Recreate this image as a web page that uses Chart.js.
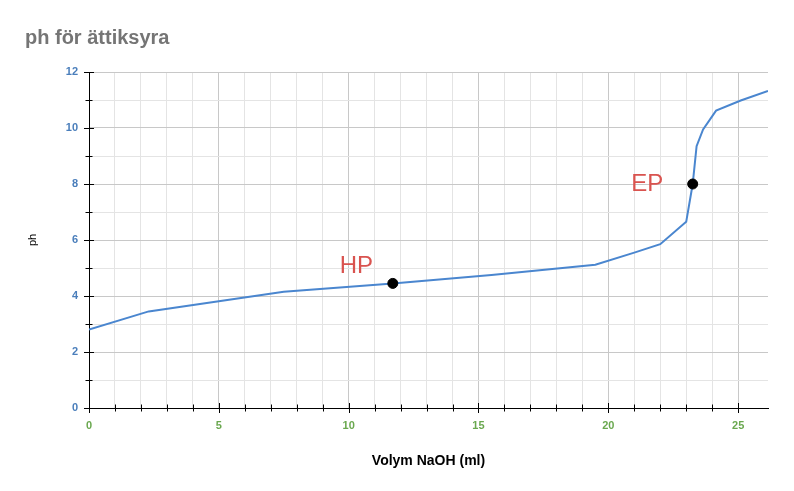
<!DOCTYPE html>
<html>
<head>
<meta charset="utf-8">
<script src="https://cdn.jsdelivr.net/npm/chart.js@4.4.1/dist/chart.umd.min.js"></script>
<style>
  html, body { margin: 0; padding: 0; background: #fff; }
  #wrap { width: 794px; height: 491px; }
</style>
</head>
<body>
<div id="wrap"><canvas id="myChart"></canvas></div>
<script>
// titration curve
const volume = [0, 2.3, 7.5, 11.7, 15.5, 19.5, 21, 22, 23, 23.25, 23.4, 23.65, 24.15, 25.1, 26.15];
const ph = [2.8, 3.45, 4.15, 4.45, 4.75, 5.12, 5.55, 5.85, 6.65, 8.0, 9.35, 9.95, 10.62, 10.98, 11.32];

// marked points: half equivalence point and equivalence point
const markNames = ["HP", "EP"];
const markVolume = [11.7, 23.25];
const markPh = [4.45, 8.0];
// where the red names sit (data units)
const nameVolume = [10.3, 21.5];
const namePh = [5.05, 8.0];

const ctx = document.getElementById("myChart").getContext("2d");

// ticks that cross the axis lines, like the original
const crossTicks = {
  id: "crossTicks",
  afterDraw(chart) {
    const { ctx, scales } = chart;
    const x = scales.x, y = scales.y;
    ctx.save();
    ctx.strokeStyle = "#000";
    ctx.lineWidth = 1;
    x.ticks.forEach((t) => {
      const px = Math.round(x.getPixelForValue(t.value)) + 0.5;
      const len = t.value % 5 === 0 ? 5 : 3.5;
      ctx.beginPath();
      ctx.moveTo(px, y.bottom - len);
      ctx.lineTo(px, y.bottom + len);
      ctx.stroke();
    });
    y.ticks.forEach((t) => {
      const py = Math.round(y.getPixelForValue(t.value)) + 0.5;
      const len = t.value % 2 === 0 ? 5 : 3.5;
      ctx.beginPath();
      ctx.moveTo(x.left - len, py);
      ctx.lineTo(x.left + len, py);
      ctx.stroke();
    });
    // names of the marked points
    ctx.fillStyle = "#d9534f";
    ctx.font = "24px 'Liberation Sans', Arial, sans-serif";
    ctx.textAlign = "center";
    ctx.textBaseline = "middle";
    markNames.forEach((n, i) => {
      ctx.fillText(n, x.getPixelForValue(nameVolume[i]), y.getPixelForValue(namePh[i]));
    });
    ctx.restore();
  },
};

const intTicks = (scale) => {
  scale.ticks = scale.ticks.filter((t) => Number.isInteger(t.value));
};

const myChart = new Chart(ctx, {
  type: "line",
  data: {
    datasets: [
      {
        label: "Märkta punkter",
        data: markVolume.map((v, i) => ({ x: v, y: markPh[i] })),
        showLine: false,
        pointRadius: 5,
        pointBackgroundColor: "#000",
        pointBorderColor: "#000",
      },
      {
        label: "ph",
        data: volume.map((v, i) => ({ x: v, y: ph[i] })),
        borderColor: "#4a86cf",
        borderWidth: 2,
        pointRadius: 0,
        tension: 0,
        fill: false,
      },
    ],
  },
  options: {
    responsive: true,
    maintainAspectRatio: false,
    animation: false,
    layout: { padding: { left: 25, right: 26, top: 0, bottom: 0 } },
    plugins: {
      legend: { display: false },
      tooltip: { enabled: false },
      title: {
        display: true,
        text: "ph för ättiksyra",
        align: "start",
        color: "#757575",
        padding: { top: 26, bottom: 22 },
        font: { family: "'Liberation Sans', Arial, sans-serif", size: 20, weight: "bold" },
      },
    },
    scales: {
      x: {
        type: "linear",
        min: 0,
        max: 26.15,
        afterBuildTicks: intTicks,
        afterFit: (s) => { s.height = 83; },
        border: { color: "#000", width: 1 },
        grid: {
          drawTicks: false,
          color: (c) => (c.tick && c.tick.value % 5 === 0 ? "#c8c8c8" : "#e4e4e4"),
        },
        ticks: {
          stepSize: 1,
          autoSkip: false,
          maxRotation: 0,
          padding: 11,
          color: "#6aa84f",
          font: { family: "'Liberation Sans', Arial, sans-serif", size: 11, weight: "bold" },
          callback: (v) => (v % 5 === 0 ? v : ""),
        },
        title: {
          display: true,
          text: "Volym NaOH (ml)",
          color: "#000",
          padding: { top: 0, bottom: 21.6 },
          font: { family: "'Liberation Sans', Arial, sans-serif", size: 14, weight: "bold" },
        },
      },
      y: {
        min: 0,
        max: 12,
        afterBuildTicks: intTicks,
        afterFit: (s) => { s.width = 64; },
        border: { color: "#000", width: 1 },
        grid: {
          drawTicks: false,
          color: (c) => (c.tick && c.tick.value % 2 === 0 ? "#c8c8c8" : "#e4e4e4"),
        },
        ticks: {
          stepSize: 1,
          autoSkip: false,
          padding: 11,
          color: "#4a7ebb",
          font: { family: "'Liberation Sans', Arial, sans-serif", size: 11, weight: "bold" },
          callback: (v) => (v % 2 === 0 ? v : ""),
        },
        title: {
          display: true,
          text: "ph",
          color: "#000",
          padding: { top: 1.5, bottom: 0 },
          font: { family: "'Liberation Sans', Arial, sans-serif", size: 11 },
        },
      },
    },
  },
  plugins: [crossTicks],
});
</script>
</body>
</html>
